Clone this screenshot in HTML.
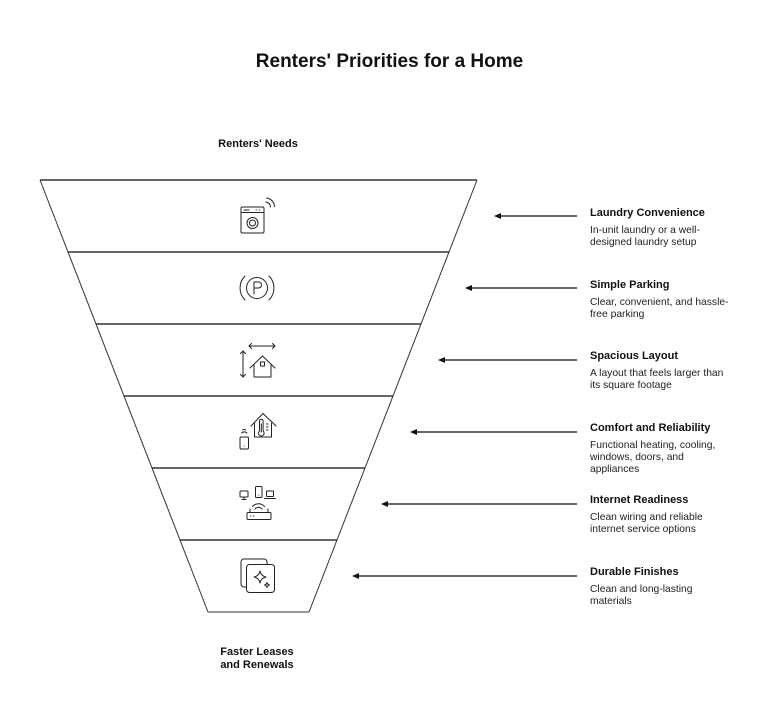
<!DOCTYPE html>
<html>
<head>
<meta charset="utf-8">
<style>
  html,body{margin:0;padding:0;background:#fff;}
  body{width:779px;height:709px;overflow:hidden;}
  svg{display:block;}
  .t{font-family:"Liberation Sans",Arial,sans-serif;}
  .h{font-weight:bold;font-size:11px;fill:#111;}
  .d{font-size:10.3px;fill:#222;}
  .ic{fill:none;stroke:#222;stroke-width:1;stroke-linecap:round;stroke-linejoin:round;}
</style>
</head>
<body>
<svg width="779" height="709" viewBox="0 0 779 709" xmlns="http://www.w3.org/2000/svg">
  <rect width="779" height="709" fill="#fff"/>

  <!-- Title -->
  <text class="t" x="389.5" y="67" text-anchor="middle" font-size="19" font-weight="bold" fill="#111">Renters' Priorities for a Home</text>
  <text class="t" x="258" y="147" text-anchor="middle" font-size="11" font-weight="bold" fill="#111">Renters' Needs</text>
  <text class="t" x="257" y="655" text-anchor="middle" font-size="11" font-weight="bold" fill="#111">Faster Leases</text>
  <text class="t" x="257" y="668" text-anchor="middle" font-size="11" font-weight="bold" fill="#111">and Renewals</text>

  <!-- Funnel -->
  <g stroke="#666" stroke-width="2">
    <line x1="40" y1="180" x2="477" y2="180"/>
    <line x1="68" y1="252" x2="449" y2="252"/>
    <line x1="96" y1="324" x2="421" y2="324"/>
    <line x1="124" y1="396" x2="393" y2="396"/>
    <line x1="152" y1="468" x2="365" y2="468"/>
    <line x1="180" y1="540" x2="337" y2="540"/>
  </g>
  <g stroke="#333" stroke-width="1">
    <line x1="40" y1="180" x2="208" y2="612"/>
    <line x1="477" y1="180" x2="309" y2="612"/>
    <line x1="208" y1="612" x2="309" y2="612"/>
  </g>

  <!-- Arrows -->
  <g stroke="#666" stroke-width="2">
    <line x1="500" y1="216" x2="577" y2="216"/>
    <line x1="471" y1="288" x2="577" y2="288"/>
    <line x1="444" y1="360" x2="577" y2="360"/>
    <line x1="416" y1="432" x2="577" y2="432"/>
    <line x1="387" y1="504" x2="577" y2="504"/>
    <line x1="358" y1="576" x2="577" y2="576"/>
  </g>
  <g fill="#111">
    <polygon points="494,216 501,213 501,219"/>
    <polygon points="465,288 472,285 472,291"/>
    <polygon points="438,360 445,357 445,363"/>
    <polygon points="410,432 417,429 417,435"/>
    <polygon points="381,504 388,501 388,507"/>
    <polygon points="352,576 359,573 359,579"/>
  </g>

  <!-- Right labels -->
  <g class="t">
    <text class="h" x="590" y="216">Laundry Convenience</text>
    <text class="d" x="590" y="233">In-unit laundry or a well-</text>
    <text class="d" x="590" y="245">designed laundry setup</text>

    <text class="h" x="590" y="288">Simple Parking</text>
    <text class="d" x="590" y="305">Clear, convenient, and hassle-</text>
    <text class="d" x="590" y="317">free parking</text>

    <text class="h" x="590" y="359">Spacious Layout</text>
    <text class="d" x="590" y="376">A layout that feels larger than</text>
    <text class="d" x="590" y="388">its square footage</text>

    <text class="h" x="590" y="431">Comfort and Reliability</text>
    <text class="d" x="590" y="448">Functional heating, cooling,</text>
    <text class="d" x="590" y="460">windows, doors, and</text>
    <text class="d" x="590" y="472">appliances</text>

    <text class="h" x="590" y="503">Internet Readiness</text>
    <text class="d" x="590" y="520">Clean wiring and reliable</text>
    <text class="d" x="590" y="532">internet service options</text>

    <text class="h" x="590" y="575">Durable Finishes</text>
    <text class="d" x="590" y="592">Clean and long-lasting</text>
    <text class="d" x="590" y="604">materials</text>
  </g>

  <!-- Icon 1: washer with wifi -->
  <g class="ic">
    <rect x="241" y="207" width="23" height="26" rx="1.5"/>
    <line x1="241" y1="212.5" x2="264" y2="212.5"/>
    <line x1="244" y1="210" x2="249" y2="210"/>
    <line x1="256" y1="210" x2="256.5" y2="210"/>
    <line x1="259" y1="210" x2="259.5" y2="210"/>
    <circle cx="252.5" cy="223" r="5.5"/>
    <circle cx="252.5" cy="223" r="3"/>
    <path d="M266 202 A5 5 0 0 1 270.5 207"/>
    <path d="M266.5 198 A9 9 0 0 1 274.5 206.5"/>
  </g>

  <!-- Icon 2: parking -->
  <g class="ic">
    <circle cx="257" cy="288" r="10.5"/>
    <path d="M245 276 A17 17 0 0 0 245 300"/>
    <path d="M269 276 A17 17 0 0 1 269 300"/>
    <path d="M254 294 L254 282 L258.5 282 A3 3 0 0 1 258.5 288 L254 288"/>
  </g>

  <!-- Icon 3: spacious layout -->
  <g class="ic">
    <line x1="249" y1="346" x2="275" y2="346"/>
    <polyline points="251.5,343.5 249,346 251.5,348.5"/>
    <polyline points="272.5,343.5 275,346 272.5,348.5"/>
    <line x1="243" y1="351" x2="243" y2="377"/>
    <polyline points="240.5,353.5 243,351 245.5,353.5"/>
    <polyline points="240.5,374.5 243,377 245.5,374.5"/>
    <polyline points="250,368 262.5,356 275,368"/>
    <polyline points="254,365 254,377 271,377 271,365"/>
    <rect x="260.5" y="362" width="4" height="4"/>
  </g>

  <!-- Icon 4: comfort (house + thermometer + phone) -->
  <g class="ic">
    <polyline points="251,426 263,413.5 276,426"/>
    <polyline points="254.5,423 254.5,437 271.5,437 271.5,423"/>
    <path d="M259.5 431 L259.5 421 A1.8 1.8 0 0 1 263.1 421 L263.1 431 A2.8 2.8 0 1 1 259.5 431 Z"/>
    <line x1="261.3" y1="424" x2="261.3" y2="432"/>
    <line x1="266.5" y1="424" x2="268" y2="424"/>
    <line x1="266.5" y1="427" x2="268" y2="427"/>
    <line x1="266.5" y1="430" x2="268" y2="430"/>
    <rect x="240" y="437" width="8.5" height="12" rx="1.2"/>
    <line x1="244.2" y1="446" x2="244.3" y2="446"/>
    <path d="M241.5 433 A4 4 0 0 1 247 433"/>
    <path d="M242.8 430 A2 2 0 0 1 245.7 430"/>
  </g>

  <!-- Icon 5: internet devices + router -->
  <g class="ic">
    <rect x="240" y="491" width="8" height="6" rx="0.8"/>
    <line x1="244" y1="497" x2="244" y2="499.5"/>
    <line x1="242" y1="499.5" x2="246" y2="499.5"/>
    <rect x="255.5" y="486.5" width="6.5" height="11" rx="1"/>
    <line x1="258.7" y1="495" x2="258.8" y2="495"/>
    <rect x="266.5" y="491" width="7" height="5.5" rx="0.8"/>
    <line x1="264.5" y1="498.5" x2="275.5" y2="498.5"/>
    <path d="M252.5 506.5 A8 8 0 0 1 264.5 506.5"/>
    <path d="M255 509 A4.5 4.5 0 0 1 262 509"/>
    <rect x="247" y="512.5" width="24" height="7" rx="1"/>
    <line x1="250" y1="512.5" x2="250" y2="509"/>
    <line x1="268" y1="512.5" x2="268" y2="509"/>
    <line x1="250.5" y1="516" x2="251" y2="516"/>
    <line x1="253.5" y1="516" x2="254" y2="516"/>
  </g>

  <!-- Icon 6: durable finishes -->
  <g class="ic">
    <path d="M246 587 L244 587 A3 3 0 0 1 241 584 L241 562 A3 3 0 0 1 244 559 L264 559 A3 3 0 0 1 267 562 L267 564"/>
    <rect x="246.5" y="564.5" width="28" height="28" rx="3"/>
    <path d="M260 571 Q261 576 266 577 Q261 578 260 583 Q259 578 254 577 Q259 576 260 571 Z"/>
    <path d="M267 582.5 Q267.4 584.6 269.5 585 Q267.4 585.4 267 587.5 Q266.6 585.4 264.5 585 Q266.6 584.6 267 582.5 Z"/>
  </g>
</svg>
</body>
</html>
